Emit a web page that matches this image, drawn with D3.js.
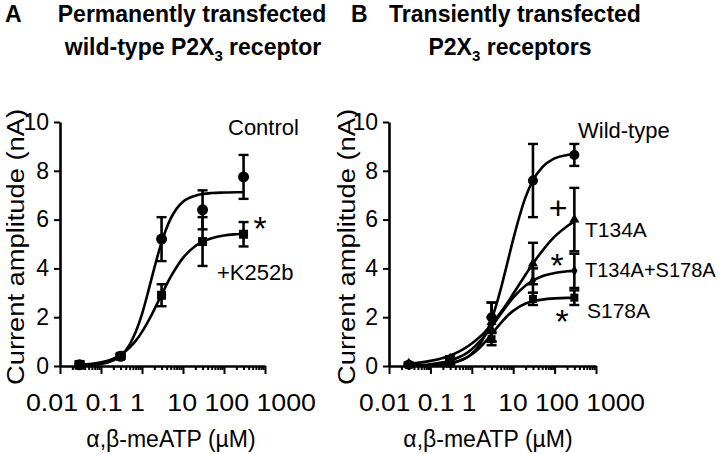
<!DOCTYPE html>
<html><head><meta charset="utf-8">
<script src="https://cdn.jsdelivr.net/npm/d3@7"></script>
<style>
body{margin:0;background:#fff}
svg{display:block}
text{font-family:"Liberation Sans",Arial,sans-serif;fill:#000}
</style>
</head><body>
<svg id="chart" width="720" height="454"></svg>
<script>
// ---------- data ----------
const conc = [0.03, 0.3, 3, 30, 300];
const tickLabels = ["0.01", "0.1", "1", "10", "100", "1000"];
const yTicks = [0, 2, 4, 6, 8, 10];

// Panel A: permanently transfected wild-type receptor
const controlMean = [0.05, 0.4, 5.2, 6.4, 7.75];
const controlSem  = [0.15, 0.1, 0.9, 0.8, 0.9];
const k252bMean   = [0.05, 0.4, 2.9, 5.1, 5.4];
const k252bSem    = [0.1, 0.1, 0.45, 1.0, 0.5];

// fitted curves, values
const curveConc  = [0.03, 0.1, 0.2, 0.3, 0.5, 0.7, 1, 1.5, 2, 3, 5, 7, 10, 20, 30, 50, 100, 200, 300];
const controlFit = [0.01, 0.08, 0.23, 0.42, 0.88, 1.39, 2.13, 3.21, 4.02, 5.07, 6.04, 6.45, 6.73, 6.98, 7.05, 7.09, 7.11, 7.12, 7.12];
const k252bFit   = [0.04, 0.15, 0.30, 0.46, 0.76, 1.03, 1.40, 1.91, 2.32, 2.92, 3.65, 4.06, 4.43, 4.92, 5.10, 5.24, 5.35, 5.40, 5.42];

// Panel B: transiently transfected receptors
const wtMean    = [0.05, 0.2, 2.0, 7.6, 8.65];
const wtSem     = [0.05, 0.1, 0.6, 1.5, 0.45];
const t134aMean = [0.1, 0.3, 1.8, 4.2, 6.0];
const t134aSem  = [0.05, 0.1, 0.8, 0.85, 1.3];
const dblMean   = [0.05, 0.2, 1.5, 3.5, 3.9];
const dblSem    = [0.05, 0.1, 0.5, 0.5, 0.7];
const s178aMean = [0.05, 0.1, 1.1, 2.75, 2.8];
const s178aSem  = [0.05, 0.05, 0.25, 0.25, 0.3];

const wtFit    = [0.004, 0.022, 0.058, 0.10, 0.20, 0.31, 0.50, 0.84, 1.20, 1.90, 3.15, 4.13, 5.19, 6.93, 7.61, 8.14, 8.51, 8.65, 8.70];
const t134aFit = [0.09, 0.21, 0.33, 0.43, 0.60, 0.74, 0.92, 1.17, 1.37, 1.71, 2.20, 2.55, 2.96, 3.75, 4.20, 4.71, 5.30, 5.73, 5.93];
const dblFit   = [0.02, 0.07, 0.15, 0.22, 0.37, 0.50, 0.69, 0.98, 1.22, 1.60, 2.13, 2.47, 2.80, 3.30, 3.50, 3.68, 3.81, 3.88, 3.91];
const s178aFit = [0.006, 0.03, 0.07, 0.12, 0.22, 0.32, 0.48, 0.73, 0.95, 1.30, 1.76, 2.03, 2.26, 2.56, 2.65, 2.72, 2.77, 2.79, 2.79];

// ---------- drawing ----------
const svg = d3.select("#chart");

function panel(cfg) {
  const x = d3.scaleLog().domain([0.01, 1000]).range(cfg.xRange);
  const y = d3.scaleLinear().domain([0, 10]).range([366, 122]);
  const g = svg.append("g");

  // x axis: major decade ticks + minor ticks
  const majors = tickLabels.map(Number);
  const xa = g.append("g").attr("transform", "translate(0,366)");
  xa.call(d3.axisBottom(x).tickValues(majors).tickSize(8).tickSizeOuter(0).tickFormat(""));
  const xm = g.append("g").attr("transform", "translate(0,366)");
  xm.call(d3.axisBottom(x).tickValues(x.ticks().filter(v => !majors.includes(v))).tickSize(4).tickSizeOuter(0).tickFormat(""));
  xm.select(".domain").remove();
  // y axis
  const ya = g.append("g").attr("transform", `translate(${cfg.xRange[0]},0)`);
  ya.call(d3.axisLeft(y).tickValues(yTicks).tickSize(6).tickSizeOuter(0).tickPadding(5));
  [xa, xm, ya].forEach(a => {
    a.selectAll(".domain").attr("stroke", "#000").attr("stroke-width", 2.6);
    a.selectAll(".tick line").attr("stroke", "#000").attr("stroke-width", 2);
  });
  ya.selectAll(".tick text").attr("font-size", 23).attr("font-family", "Liberation Sans, Arial, sans-serif").attr("fill", "#000");

  // x tick labels: one stretched string as in the original
  g.append("text")
    .attr("x", x(0.01) + cfg.labelOffset).attr("y", 411)
    .attr("font-size", 23)
    .attr("textLength", cfg.labelLen).attr("lengthAdjust", "spacingAndGlyphs")
    .style("white-space", "pre")
    .text(tickLabels.slice(0, 3).join(" ") + "   " + tickLabels.slice(3).join(" "));

  // axis titles
  g.append("text").attr("x", cfg.xTitleX).attr("y", 447).attr("text-anchor", "middle")
    .attr("font-size", 23).text("α,β-meATP (µM)");
  g.append("text").attr("transform", `translate(${cfg.yTitleX},247) rotate(-90)`)
    .attr("text-anchor", "middle").attr("font-size", 23)
    .attr("textLength", 276).attr("lengthAdjust", "spacingAndGlyphs")
    .text("Current amplitude (nA)");

  const line = d3.line().x((d, i) => x(curveConc[i])).y(d => y(d)).curve(d3.curveMonotoneX);

  cfg.series.forEach(s => {
    g.append("path").attr("d", line(s.fit)).attr("fill", "none")
      .attr("stroke", "#000").attr("stroke-width", 2.6);
  });
  cfg.series.forEach(s => {
    conc.forEach((c, i) => {
      const cx = x(c), lo = y(s.mean[i] - s.sem[i]), hi = y(s.mean[i] + s.sem[i]);
      g.append("line").attr("x1", cx).attr("x2", cx).attr("y1", lo).attr("y2", hi)
        .attr("stroke", "#000").attr("stroke-width", 2.6);
      [lo, hi].forEach(yy => g.append("line").attr("x1", cx - 5).attr("x2", cx + 5)
        .attr("y1", yy).attr("y2", yy).attr("stroke", "#000").attr("stroke-width", 2.4));
      g.append("path").attr("d", d3.symbol().type(s.symbol).size(s.size)())
        .attr("transform", `translate(${cx},${y(s.mean[i])})`).attr("fill", "#000");
    });
  });

  cfg.notes.forEach(n => {
    g.append("text").attr("x", n.x).attr("y", n.y).attr("font-size", n.size || 22)
      .attr("text-anchor", n.anchor || "start").text(n.t);
  });
}

panel({
  xRange: [60, 265], labelOffset: -34, labelLen: 290, xTitleX: 171, yTitleX: 24,
  series: [
    {mean: controlMean, sem: controlSem, fit: controlFit, symbol: d3.symbolCircle, size: 95},
    {mean: k252bMean, sem: k252bSem, fit: k252bFit, symbol: d3.symbolSquare, size: 81}
  ],
  notes: [
    {t: "Control", x: 228, y: 135},
    {t: "*", x: 260, y: 240, size: 34, anchor: "middle"},
    {t: "+K252b", x: 217, y: 280}
  ]
});

panel({
  xRange: [389, 596], labelOffset: -30, labelLen: 286, xTitleX: 488, yTitleX: 355,
  series: [
    {mean: wtMean, sem: wtSem, fit: wtFit, symbol: d3.symbolCircle, size: 80},
    {mean: t134aMean, sem: t134aSem, fit: t134aFit, symbol: d3.symbolTriangle, size: 45},
    {mean: dblMean, sem: dblSem, fit: dblFit, symbol: d3.symbolDiamond, size: 35},
    {mean: s178aMean, sem: s178aSem, fit: s178aFit, symbol: d3.symbolSquare, size: 64}
  ],
  notes: [
    {t: "Wild-type", x: 578, y: 138, size: 22},
    {t: "+", x: 558, y: 219, size: 32, anchor: "middle"},
    {t: "T134A", x: 585, y: 237, size: 21},
    {t: "*", x: 557, y: 277, size: 34, anchor: "middle"},
    {t: "T134A+S178A", x: 585, y: 277, size: 20},
    {t: "S178A", x: 587, y: 318, size: 21},
    {t: "*", x: 562, y: 333, size: 34, anchor: "middle"}
  ]
});

// titles
function title(x, y, parts, anchor) {
  const t = svg.append("text").attr("x", x).attr("y", y).attr("font-size", 23)
    .attr("font-weight", "bold").attr("text-anchor", anchor || "middle");
  parts.forEach(p => {
    const ts = t.append("tspan").text(p.t);
    if (p.sub) ts.attr("font-size", 15).attr("dy", 6);
    if (p.after) ts.attr("dy", -6);
  });
}
title(5, 22, [{t: "A"}], "start");
title(192, 22, [{t: "Permanently transfected"}]);
title(193, 55, [{t: "wild-type P2X"}, {t: "3", sub: true}, {t: " receptor", after: true}]);
title(351, 22, [{t: "B"}], "start");
title(515, 22, [{t: "Transiently transfected"}]);
title(510, 55, [{t: "P2X"}, {t: "3", sub: true}, {t: " receptors", after: true}]);
</script>
</body></html>
